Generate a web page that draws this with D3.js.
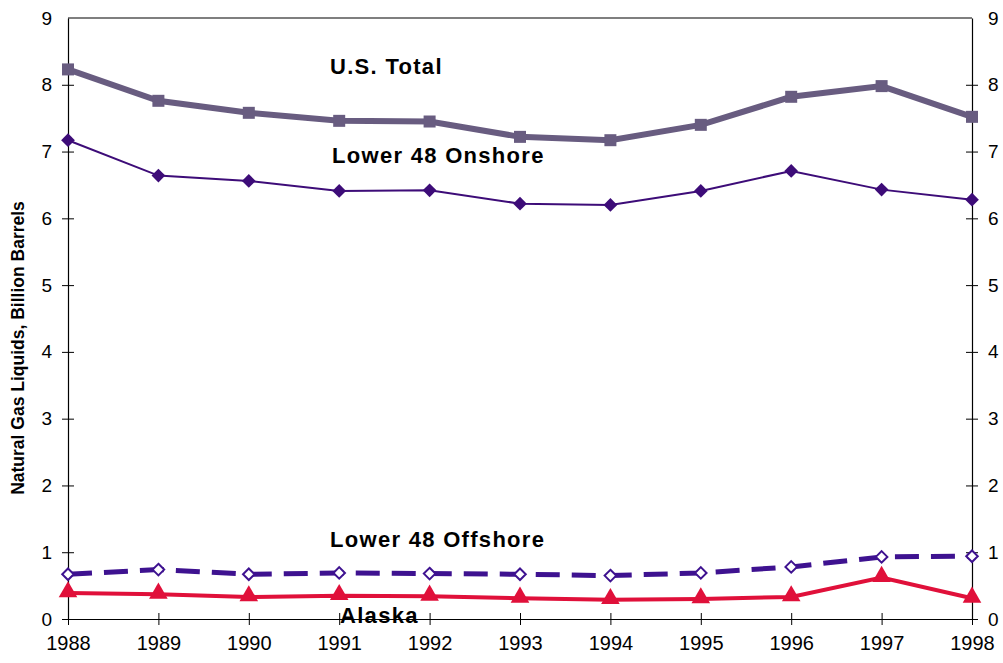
<!DOCTYPE html>
<html>
<head>
<meta charset="utf-8">
<script src="https://cdn.jsdelivr.net/npm/d3@7"></script>
<style>
  body { margin: 0; background: #fff; }
  text { font-family: "Liberation Sans", Arial, sans-serif; }
  .lbl { font-weight: bold; font-size: 22px; letter-spacing: 1.3px; fill: #000; }
</style>
</head>
<body>
<div id="container"></div>
<script>
const years = [1988, 1989, 1990, 1991, 1992, 1993, 1994, 1995, 1996, 1997, 1998];
const usTotal = [8.23, 7.76, 7.58, 7.46, 7.45, 7.22, 7.17, 7.40, 7.82, 7.98, 7.52];
const onshore = [7.17, 6.64, 6.56, 6.41, 6.42, 6.22, 6.20, 6.41, 6.71, 6.43, 6.28];
const offshore = [0.67, 0.74, 0.67, 0.69, 0.68, 0.67, 0.65, 0.69, 0.78, 0.93, 0.94];
const alaska = [0.39, 0.37, 0.33, 0.35, 0.34, 0.31, 0.29, 0.30, 0.33, 0.62, 0.31];
const yTicks = [0, 1, 2, 3, 4, 5, 6, 7, 8, 9];

const w = 1003, h = 663;
const margin = {top: 18, left: 68, bottom: 44, right: 31};
const graphWidth = w - margin.left - margin.right;
const graphHeight = h - margin.top - margin.bottom;

const svg = d3.select("#container").append("svg").attr("width", w).attr("height", h);
const graph = svg.append("g").attr("transform", `translate(${margin.left}, ${margin.top})`);

const xScale = d3.scaleLinear().domain([1988, 1998]).range([0, graphWidth]);
const yScale = d3.scaleLinear().domain([0, 9]).range([graphHeight, 0]);

// frame top line
graph.append("line").attr("x1", 0).attr("x2", graphWidth).attr("y1", 0).attr("y2", 0)
  .attr("stroke", "#000").attr("stroke-width", 1.2);

// axes (ticks cross the line)
function styleAxis(g, fs) {
  g.select(".domain").attr("stroke", "#000").attr("stroke-width", 1.2);
  g.selectAll(".tick line").attr("stroke", "#000").attr("stroke-width", 1);
  g.selectAll(".tick text").attr("fill", "#000").style("font-size", fs + "px");
}

const xAxisG = graph.append("g").attr("transform", `translate(0, ${graphHeight})`)
  .call(d3.axisBottom(xScale).tickValues(years).tickFormat(d3.format("d")).tickSize(6).tickSizeOuter(0).tickPadding(11));
styleAxis(xAxisG, 20);
xAxisG.selectAll(".tick line").attr("y1", -6);

const yLeftG = graph.append("g")
  .call(d3.axisLeft(yScale).tickValues(yTicks).tickSize(6).tickSizeOuter(0).tickPadding(10));
styleAxis(yLeftG, 19);
yLeftG.selectAll(".tick line").attr("x1", 6);
yLeftG.selectAll(".tick").filter(d => d === 9).select("line").remove();

const yRightG = graph.append("g").attr("transform", `translate(${graphWidth}, 0)`)
  .call(d3.axisRight(yScale).tickValues(yTicks).tickSize(6).tickSizeOuter(0).tickPadding(10));
styleAxis(yRightG, 19);
yRightG.selectAll(".tick line").attr("x1", -6);
yRightG.selectAll(".tick").filter(d => d === 9).select("line").remove();

// y axis title
svg.append("text")
  .attr("transform", "rotate(-90)")
  .attr("x", -348)
  .attr("y", 24)
  .attr("text-anchor", "middle")
  .style("font-size", "17.5px")
  .style("font-weight", "bold")
  .text("Natural Gas Liquids, Billion Barrels");

const line = d3.line().x((d, i) => xScale(years[i])).y(d => yScale(d));

// U.S. Total
graph.append("path").datum(usTotal).attr("d", line)
  .attr("fill", "none").attr("stroke", "#685C80").attr("stroke-width", 6);
graph.selectAll(".sq").data(usTotal).enter().append("rect")
  .attr("x", (d, i) => xScale(years[i]) - 6).attr("y", d => yScale(d) - 6)
  .attr("width", 12).attr("height", 12).attr("fill", "#685C80");

// Lower 48 Onshore
graph.append("path").datum(onshore).attr("d", line)
  .attr("fill", "none").attr("stroke", "#3D0C78").attr("stroke-width", 2);
graph.selectAll(".dmd").data(onshore).enter().append("path")
  .attr("d", d3.symbol().type(d3.symbolDiamond2).size(120))
  .attr("transform", (d, i) => `translate(${xScale(years[i])}, ${yScale(d)})`)
  .attr("fill", "#3D0C78");

// Lower 48 Offshore
graph.append("path").datum(offshore).attr("d", line)
  .attr("fill", "none").attr("stroke", "#3E1290").attr("stroke-width", 5)
  .attr("stroke-dasharray", "24,12");
graph.selectAll(".odmd").data(offshore).enter().append("path")
  .attr("d", d3.symbol().type(d3.symbolDiamond2).size(85))
  .attr("transform", (d, i) => `translate(${xScale(years[i])}, ${yScale(d)})`)
  .attr("fill", "#fff").attr("stroke", "#3E1290").attr("stroke-width", 2);

// Alaska
graph.append("path").datum(alaska).attr("d", line)
  .attr("fill", "none").attr("stroke", "#E0103A").attr("stroke-width", 4);
graph.selectAll(".tri").data(alaska).enter().append("path")
  .attr("d", d3.symbol().type(d3.symbolTriangle).size(150))
  .attr("transform", (d, i) => `translate(${xScale(years[i])}, ${yScale(d) - 1})`)
  .attr("fill", "#E0103A");

// series labels
svg.append("text").attr("class", "lbl").attr("x", 330).attr("y", 74).text("U.S. Total");
svg.append("text").attr("class", "lbl").attr("x", 332).attr("y", 163).text("Lower 48 Onshore");
svg.append("text").attr("class", "lbl").attr("x", 330).attr("y", 547).text("Lower 48 Offshore");
svg.append("text").attr("class", "lbl").attr("x", 340).attr("y", 623).text("Alaska");
</script>
</body>
</html>
